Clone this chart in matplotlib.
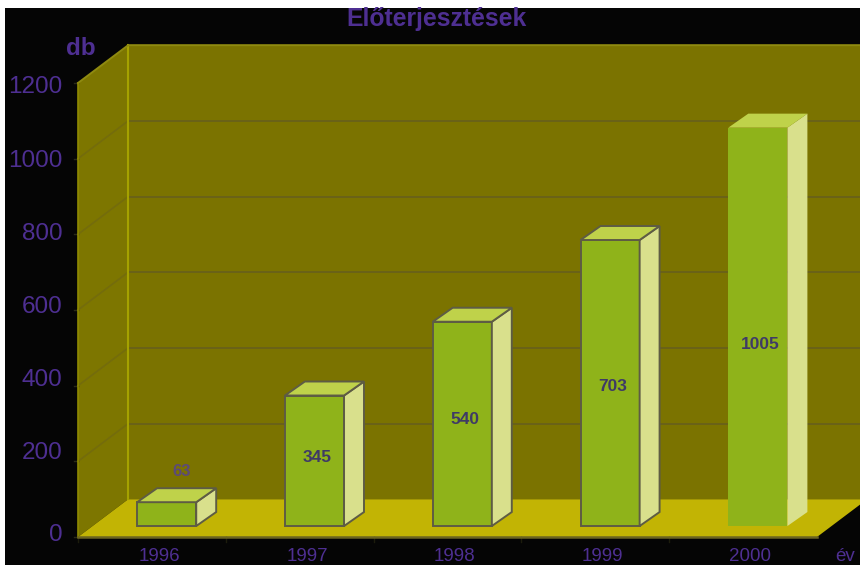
import matplotlib
matplotlib.use("Agg")
import matplotlib.pyplot as plt
from matplotlib.patches import Polygon

years = ["1996", "1997", "1998", "1999", "2000"]
bar_heights = [63, 345, 540, 756, 1053]
bar_labels = ["63", "345", "540", "703", "1005"]
y_ticks = [0, 200, 400, 600, 800, 1000, 1200]

TEXT = "#4e2f92"
WALL = "#7b7300"
SIDE = "#7d7600"
FLOOR = "#c2b404"
GRID = "#6a6218"
SIDE_GRID = "#746c0c"
EDGE = "#5e5c44"

# depth of the 3d box, in axis units
DX = 0.34
DY = 100
BAR_DX = 0.135
BAR_DY = 37
BAR_Y0 = 29


def poly(ax, pts, color, z, edge="none", lw=0):
    ax.add_patch(Polygon(pts, closed=True, facecolor=color, edgecolor=edge, linewidth=lw, zorder=z, clip_on=False))


def draw_bar(ax, i, height, edge):
    x0 = i + 0.40
    x1 = i + 0.80
    y0 = BAR_Y0
    y1 = BAR_Y0 + height
    poly(ax, [(x0, y0), (x1, y0), (x1, y1), (x0, y1)], "#8fb31a", 6, edge, 1.4)
    poly(ax, [(x1, y0), (x1 + BAR_DX, y0 + BAR_DY), (x1 + BAR_DX, y1 + BAR_DY), (x1, y1)], "#d9e08c", 6, edge, 1.4)
    poly(ax, [(x0, y1), (x1, y1), (x1 + BAR_DX, y1 + BAR_DY), (x0 + BAR_DX, y1 + BAR_DY)], "#bfd24a", 6, edge, 1.4)


def main():
    fig = plt.figure(figsize=(8.6, 5.65), dpi=100, facecolor="white")
    plt.rcParams["font.family"] = ["Liberation Sans", "DejaVu Sans"]

    bg = fig.add_axes([5 / 860, 0, 855 / 860, 557 / 565])
    bg.set_facecolor("#050505")
    bg.set_xticks([])
    bg.set_yticks([])
    for s in bg.spines.values():
        s.set_visible(False)

    # axis box is the front plane of the 3d chart
    ax = fig.add_axes([78 / 860, (565 - 537) / 565, 739 / 860, 454 / 565])
    ax.patch.set_alpha(0)
    ax.set_xlim(0, 5)
    ax.set_ylim(0, 1200)
    ax.axis("off")

    right = 5 + 2 * DX
    top = 1200 + DY
    poly(ax, [(DX, DY), (right, DY), (right, top), (DX, top)], WALL, 1)
    poly(ax, [(0, 0), (DX, DY), (DX, top), (0, 1200)], SIDE, 1)
    poly(ax, [(0, 0), (5, 0), (5 + DX, DY), (DX, DY)], FLOOR, 2)

    for v in y_ticks[1:-1]:
        ax.plot([0, DX], [v, v + DY], color=SIDE_GRID, lw=1.2, zorder=3, clip_on=False)
        ax.plot([DX, right], [v + DY, v + DY], color=GRID, lw=1.4, zorder=3, clip_on=False)
    ax.plot([DX, DX], [DY, top], color="#a5a200", lw=1.5, zorder=3, clip_on=False)
    ax.plot([0, 0], [0, 1200], color="#8f8a00", lw=1.2, zorder=3, clip_on=False)
    ax.plot([0, DX, right], [1200, top, top], color="#8f8a10", lw=1.4, zorder=3, clip_on=False)
    ax.plot([0, 5], [0, 0], color="#6b6420", lw=1.8, zorder=3, clip_on=False)

    for i, h in enumerate(bar_heights):
        draw_bar(ax, i, h, "none" if i == 4 else EDGE)

    # where the value labels sit, axis units
    label_y = [143, 180, 282, 370, 479]
    for i, lab in enumerate(bar_labels):
        if i == 0:
            ax.text(i + 0.70, BAR_Y0 + label_y[i], lab, color="#5c4a78", fontsize=12, fontweight="bold",
                    ha="center", va="center", zorder=8)
        else:
            ax.text(i + 0.615, BAR_Y0 + label_y[i], lab, color="#3f3a66", fontsize=12.5, fontweight="bold",
                    ha="center", va="center", zorder=8)

    for v in y_ticks:
        # the labels do not line up exactly with the tick marks in the original
        pos = v * 0.966 + 29 if v > 0 else 5
        ax.text(-0.105, pos, str(v), color=TEXT, fontsize=17.5, ha="right", va="center", clip_on=False)
        ax.plot([-0.03, 0], [v, v], color="#2a2a18", lw=1, clip_on=False)

    for i, y in enumerate(years):
        ax.text(i + 0.55, -63, y, color=TEXT, fontsize=13.5, ha="center", va="baseline", clip_on=False)
        ax.plot([i, i], [0, -12], color="#1c1c0c", lw=1, clip_on=False)

    ax.text(0.02, 1292, "db", color=TEXT, fontsize=17.5, fontweight="bold", ha="center", va="center", clip_on=False)
    ax.text(5.125, -63, "év", color=TEXT, fontsize=13.5, ha="left", va="baseline", clip_on=False)
    fig.text(437 / 860, (565 - 19) / 565, "Előterjesztések", color=TEXT, fontsize=17.8, fontweight="bold",
             ha="center", va="center")

    fig.savefig("out.png", dpi=100, facecolor="white")


if __name__ == '__main__':
    main()
